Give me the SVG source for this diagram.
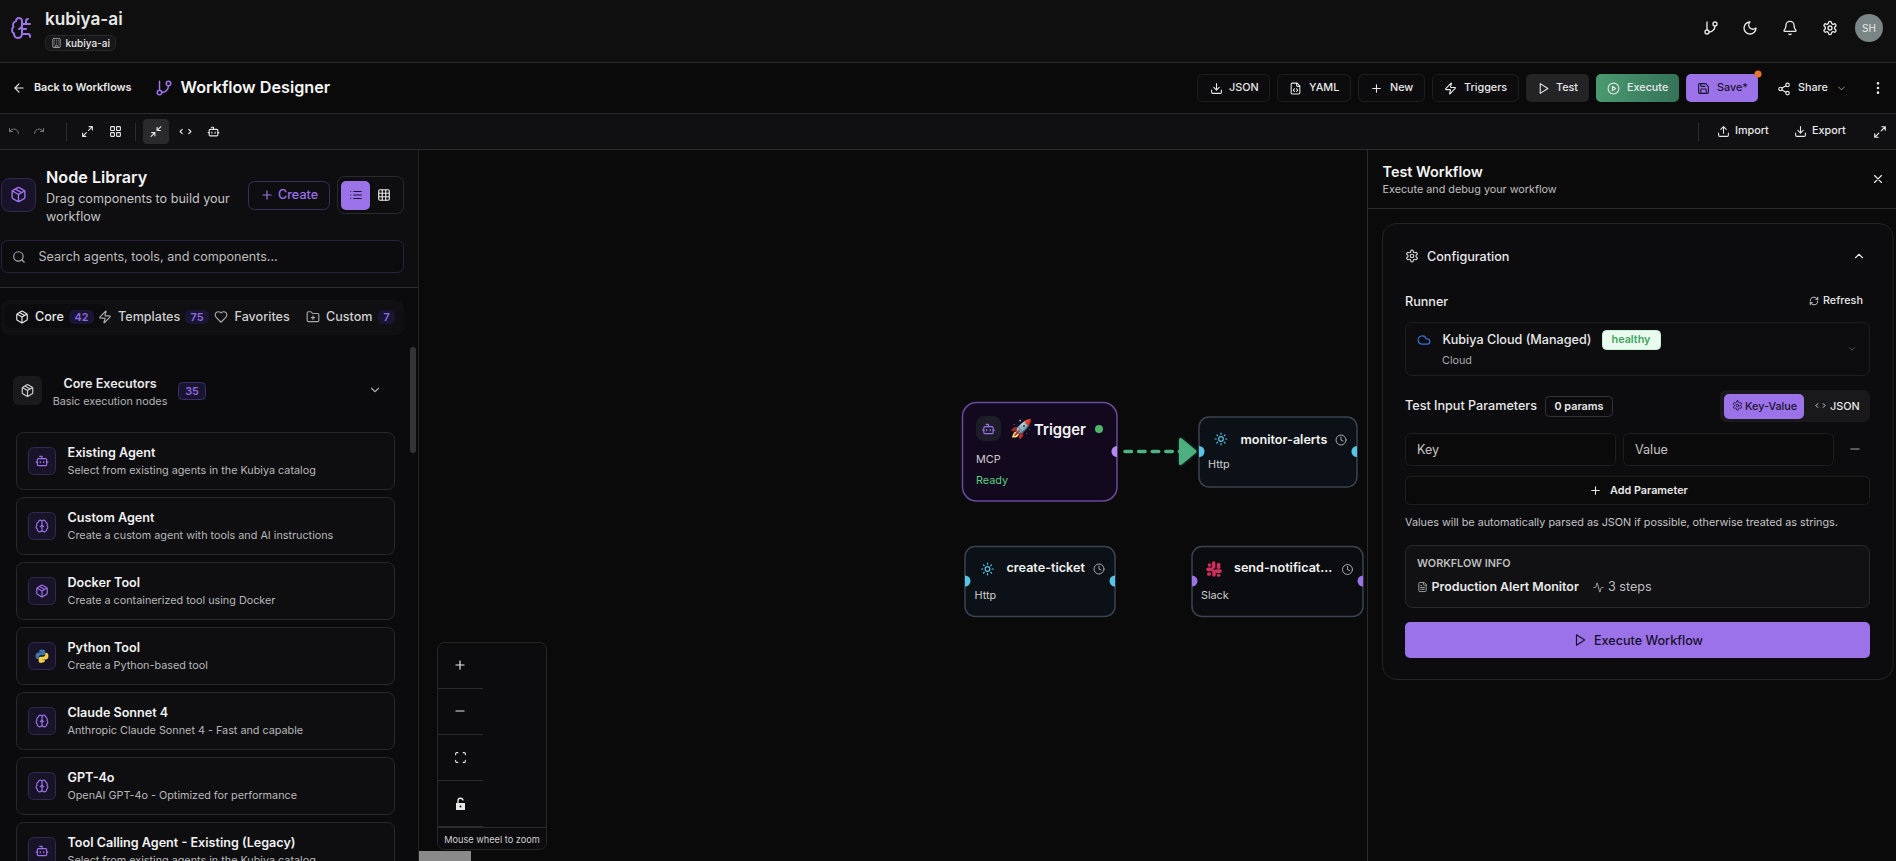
<svg xmlns="http://www.w3.org/2000/svg" width="1896" height="861" viewBox="0 0 1896 861">
<style>
text{font-family:Inter,"Noto Sans","Liberation Sans",sans-serif;fill:#e8e8e8}
.i{fill:none;stroke:currentColor;stroke-width:2;stroke-linecap:round;stroke-linejoin:round}
.w{color:#e8e8e8}.p{color:#9b72e8}.g{color:#a8a8a8}.d{color:#1a1230}.c{color:#56c5e8}
.t12{font-size:10.8px;font-weight:500}.s12{font-size:10.8px;font-weight:600}
.t14{font-size:12.6px;font-weight:500}
.btn{fill:#0c0c0e;stroke:#1f1f22}
.card{fill:#0e0e11;stroke:#29292d}
.ibox{fill:#191329;stroke:#33294f}
.ct{font-size:12.6px;font-weight:600;fill:#f2f2f2}
.cd{font-size:10.8px;fill:#b8b8b8}
.nd{fill:#0c1117;stroke:#3a4350;stroke-width:1.5}
.nt{font-size:12.6px;font-weight:600;fill:#f2f2f2}
.ns{font-size:10.8px;fill:#cfcfcf}
.badge{fill:#1a1533}
.bt{font-size:10.8px;font-weight:600;fill:#8e6be0;text-anchor:middle}
.ln{fill:#2c2c2f}
</style>
<defs>
<symbol id="arrow" viewBox="0 0 24 24"><path d="M12 19l-7-7 7-7M19 12H5"/></symbol>
<symbol id="branch" viewBox="0 0 24 24"><path d="M6 3v12M18 9a9 9 0 0 1-9 9"/><circle cx="18" cy="6" r="3"/><circle cx="6" cy="18" r="3"/></symbol>
<symbol id="undo" viewBox="0 0 24 24"><path d="M3 7v6h6M21 17a9 9 0 0 0-15-6.7L3 13"/></symbol>
<symbol id="redo" viewBox="0 0 24 24"><path d="M21 7v6h-6M3 17a9 9 0 0 1 15-6.7L21 13"/></symbol>
<symbol id="max" viewBox="0 0 24 24"><path d="M15 3h6v6M9 21H3v-6M21 3l-7 7M3 21l7-7"/></symbol>
<symbol id="min" viewBox="0 0 24 24"><path d="M4 14h6v6M20 10h-6V4M14 10l7-7M3 21l7-7"/></symbol>
<symbol id="grid" viewBox="0 0 24 24"><rect x="3" y="3" width="7" height="7" rx="1"/><rect x="14" y="3" width="7" height="7" rx="1"/><rect x="14" y="14" width="7" height="7" rx="1"/><rect x="3" y="14" width="7" height="7" rx="1"/></symbol>
<symbol id="code" viewBox="0 0 24 24"><path d="M18 16l4-4-4-4M6 8l-4 4 4 4"/></symbol>
<symbol id="bot" viewBox="0 0 24 24"><path d="M12 8V4H8M2 14h2M20 14h2M15 13v2M9 13v2"/><rect x="4" y="8" width="16" height="12" rx="2"/></symbol>
<symbol id="pkg" viewBox="0 0 24 24"><path d="M11 21.73a2 2 0 0 0 2 0l7-4A2 2 0 0 0 21 16V8a2 2 0 0 0-1-1.73l-7-4a2 2 0 0 0-2 0l-7 4A2 2 0 0 0 3 8v8a2 2 0 0 0 1 1.73zM12 22V12M3.29 7L12 12l8.71-5M7.5 4.27l9 5.15"/></symbol>
<symbol id="plus" viewBox="0 0 24 24"><path d="M5 12h14M12 5v14"/></symbol>
<symbol id="minus" viewBox="0 0 24 24"><path d="M5 12h14"/></symbol>
<symbol id="list" viewBox="0 0 24 24"><path d="M3 12h.01M3 18h.01M3 6h.01M8 12h13M8 18h13M8 6h13"/></symbol>
<symbol id="g3" viewBox="0 0 24 24"><rect x="3" y="3" width="18" height="18" rx="2"/><path d="M3 9h18M3 15h18M9 3v18M15 3v18"/></symbol>
<symbol id="search" viewBox="0 0 24 24"><circle cx="11" cy="11" r="8"/><path d="M21 21l-4.3-4.3"/></symbol>
<symbol id="zap" viewBox="0 0 24 24"><path d="M4 14a1 1 0 0 1-.78-1.63l9.9-10.2a.5.5 0 0 1 .86.46l-1.92 6.02A1 1 0 0 0 13 10h7a1 1 0 0 1 .78 1.63l-9.9 10.2a.5.5 0 0 1-.86-.46l1.92-6.02A1 1 0 0 0 11 14z"/></symbol>
<symbol id="heart" viewBox="0 0 24 24"><path d="M19 14c1.49-1.46 3-3.21 3-5.5A5.5 5.5 0 0 0 16.5 3c-1.76 0-3 .5-4.5 2-1.5-1.5-2.74-2-4.5-2A5.5 5.5 0 0 0 2 8.5c0 2.3 1.5 4.05 3 5.5l7 7Z"/></symbol>
<symbol id="folder" viewBox="0 0 24 24"><path d="M12 10v6M9 13h6M20 20a2 2 0 0 0 2-2V8a2 2 0 0 0-2-2h-7.9a2 2 0 0 1-1.69-.9L9.6 3.9A2 2 0 0 0 7.93 3H4a2 2 0 0 0-2 2v13a2 2 0 0 0 2 2Z"/></symbol>
<symbol id="cdown" viewBox="0 0 24 24"><path d="M6 9l6 6 6-6"/></symbol>
<symbol id="cup" viewBox="0 0 24 24"><path d="M18 15l-6-6-6 6"/></symbol>
<symbol id="brain" viewBox="0 0 24 24"><path d="M12 5a3 3 0 1 0-5.997.125 4 4 0 0 0-2.526 5.77 4 4 0 0 0 .556 6.588A4 4 0 1 0 12 18ZM12 5a3 3 0 1 1 5.997.125 4 4 0 0 1 2.526 5.77 4 4 0 0 1-.556 6.588A4 4 0 1 1 12 18ZM15 13a4.5 4.5 0 0 1-3-4 4.5 4.5 0 0 1-3 4M12 18V5"/></symbol>
<symbol id="logo" viewBox="0 0 24 24"><path d="M12 5a3 3 0 1 0-5.997.125 4 4 0 0 0-2.526 5.77 4 4 0 0 0 .556 6.588A4 4 0 1 0 12 18ZM12 5v13M9 13a4.5 4.5 0 0 0 3-4M12 13h4M12 18h6a2 2 0 0 1 2 2v1M12 8h8M16 8V5a2 2 0 0 1 2-2"/></symbol>
<symbol id="moon" viewBox="0 0 24 24"><path d="M12 3a6 6 0 0 0 9 9 9 9 0 1 1-9-9Z"/></symbol>
<symbol id="bell" viewBox="0 0 24 24"><path d="M10.268 21a2 2 0 0 0 3.464 0M3.262 15.326A1 1 0 0 0 4 17h16a1 1 0 0 0 .74-1.673C19.41 13.956 18 12.499 18 8A6 6 0 0 0 6 8c0 4.499-1.411 5.956-2.738 7.326"/></symbol>
<symbol id="gear" viewBox="0 0 24 24"><path d="M12.22 2h-.44a2 2 0 0 0-2 2v.18a2 2 0 0 1-1 1.73l-.43.25a2 2 0 0 1-2 0l-.15-.08a2 2 0 0 0-2.73.73l-.22.38a2 2 0 0 0 .73 2.73l.15.1a2 2 0 0 1 1 1.72v.51a2 2 0 0 1-1 1.74l-.15.09a2 2 0 0 0-.73 2.73l.22.38a2 2 0 0 0 2.73.73l.15-.08a2 2 0 0 1 2 0l.43.25a2 2 0 0 1 1 1.73V20a2 2 0 0 0 2 2h.44a2 2 0 0 0 2-2v-.18a2 2 0 0 1 1-1.73l.43-.25a2 2 0 0 1 2 0l.15.08a2 2 0 0 0 2.73-.73l.22-.39a2 2 0 0 0-.73-2.73l-.15-.08a2 2 0 0 1-1-1.74v-.5a2 2 0 0 1 1-1.74l.15-.09a2 2 0 0 0 .73-2.73l-.22-.38a2 2 0 0 0-2.73-.73l-.15.08a2 2 0 0 1-2 0l-.43-.25a2 2 0 0 1-1-1.73V4a2 2 0 0 0-2-2z"/><circle cx="12" cy="12" r="3"/></symbol>
<symbol id="down" viewBox="0 0 24 24"><path d="M21 15v4a2 2 0 0 1-2 2H5a2 2 0 0 1-2-2v-4M7 10l5 5 5-5M12 15V3"/></symbol>
<symbol id="up" viewBox="0 0 24 24"><path d="M21 15v4a2 2 0 0 1-2 2H5a2 2 0 0 1-2-2v-4M17 8l-5-5-5 5M12 3v12"/></symbol>
<symbol id="fcode" viewBox="0 0 24 24"><path d="M10 12.5L8 15l2 2.5M14 12.5l2 2.5-2 2.5M14 2v4a2 2 0 0 0 2 2h4M15 2H6a2 2 0 0 0-2 2v16a2 2 0 0 0 2 2h12a2 2 0 0 0 2-2V7z"/></symbol>
<symbol id="play" viewBox="0 0 24 24"><path d="M6 3l14 9-14 9z"/></symbol>
<symbol id="cplay" viewBox="0 0 24 24"><circle cx="12" cy="12" r="10"/><path d="M10 8l6 4-6 4z"/></symbol>
<symbol id="save" viewBox="0 0 24 24"><path d="M15.2 3a2 2 0 0 1 1.4.6l3.8 3.8a2 2 0 0 1 .6 1.4V19a2 2 0 0 1-2 2H5a2 2 0 0 1-2-2V5a2 2 0 0 1 2-2zM17 21v-7a1 1 0 0 0-1-1H8a1 1 0 0 0-1 1v7M7 3v4a1 1 0 0 0 1 1h7"/></symbol>
<symbol id="share" viewBox="0 0 24 24"><circle cx="18" cy="5" r="3"/><circle cx="6" cy="12" r="3"/><circle cx="18" cy="19" r="3"/><path d="M8.59 13.51l6.83 3.98M15.41 6.51l-6.82 3.98"/></symbol>
<symbol id="more" viewBox="0 0 24 24"><circle cx="12" cy="5" r="1"/><circle cx="12" cy="12" r="1"/><circle cx="12" cy="19" r="1"/></symbol>
<symbol id="x" viewBox="0 0 24 24"><path d="M18 6L6 18M6 6l12 12"/></symbol>
<symbol id="refresh" viewBox="0 0 24 24"><path d="M3 12a9 9 0 0 1 9-9 9.75 9.75 0 0 1 6.74 2.74L21 8M21 3v5h-5M21 12a9 9 0 0 1-9 9 9.75 9.75 0 0 1-6.74-2.74L3 16M8 16H3v5"/></symbol>
<symbol id="cloud" viewBox="0 0 24 24"><path d="M17.5 19H9a7 7 0 1 1 6.71-9h1.79a4.5 4.5 0 1 1 0 9Z"/></symbol>
<symbol id="ftext" viewBox="0 0 24 24"><path d="M15 2H6a2 2 0 0 0-2 2v16a2 2 0 0 0 2 2h12a2 2 0 0 0 2-2V7ZM14 2v4a2 2 0 0 0 2 2h4M10 9H8M16 13H8M16 17H8"/></symbol>
<symbol id="act" viewBox="0 0 24 24"><path d="M22 12h-2.48a2 2 0 0 0-1.93 1.46l-2.35 8.36a.25.25 0 0 1-.48 0L9.24 2.18a.25.25 0 0 0-.48 0l-2.35 8.36A2 2 0 0 1 4.49 12H2"/></symbol>
<symbol id="clock" viewBox="0 0 24 24"><circle cx="12" cy="12" r="10"/><path d="M12 6v6l4 2"/></symbol>
<symbol id="bld" viewBox="0 0 24 24"><rect x="4" y="2" width="16" height="20" rx="2"/><path d="M9 22v-4h6v4M8 6h.01M16 6h.01M12 6h.01M12 10h.01M12 14h.01M16 10h.01M16 14h.01M8 10h.01M8 14h.01"/></symbol>
<symbol id="full" viewBox="0 0 24 24"><path d="M3 7V5a2 2 0 0 1 2-2h2M17 3h2a2 2 0 0 1 2 2v2M21 17v2a2 2 0 0 1-2 2h-2M7 21H5a2 2 0 0 1-2-2v-2"/></symbol>
<symbol id="http" viewBox="0 0 24 24"><circle cx="12" cy="12" r="4"/><path d="M12 2v2M12 20v2M2 12h2M20 12h2M5 5l1.4 1.4M17.6 17.6L19 19M5 19l1.4-1.4M17.6 6.4L19 5"/></symbol>
<symbol id="slack" viewBox="0 0 24 24"><g fill="#d1305e" stroke="none"><rect x="9" y="1" width="5" height="10.5" rx="2.5"/><rect x="1" y="10" width="10.5" height="5" rx="2.5"/><rect x="16" y="3" width="5" height="9" rx="2.5"/><rect x="12.5" y="12.5" width="10.5" height="5" rx="2.5"/><rect x="3" y="4" width="5" height="5" rx="2.5"/><rect x="9.5" y="13" width="5" height="10" rx="2.5"/><rect x="2" y="16.5" width="6" height="5" rx="2.5"/><rect x="16" y="19" width="5" height="4" rx="2"/></g></symbol>
<symbol id="py" viewBox="0 0 24 24"><path fill="#3f75a8" d="M11.9 1C7 1 7.3 3.1 7.3 3.1V5.4h4.7v.7H5.4C3.3 6.1 1 7.4 1 12c0 4.7 2.1 5.1 3.4 5.1h1.9v-2.7c0-2 1.7-3.7 3.7-3.7h4.7c1.6 0 3-1.4 3-3V3.9C16.7 2.3 15.3 1 11.9 1z"/><path fill="#f2cf4d" d="M12.1 23c4.9 0 4.6-2.1 4.6-2.1v-2.3H12v-.7h6.6c2.1 0 4.4-1.3 4.4-5.9 0-4.7-2.1-5.1-3.4-5.1h-1.9v2.7c0 2-1.7 3.7-3.7 3.7H9.3c-1.6 0-3 1.4-3 3v4.8c0 1.6 1.4 2.9 5.8 2.9z"/></symbol>
<linearGradient id="ex" x1="0" x2="1"><stop offset="0" stop-color="#4a9a70"/><stop offset="1" stop-color="#357258"/></linearGradient>
<filter id="glow" x="-30%" y="-60%" width="160%" height="220%"><feGaussianBlur stdDeviation="1.5"/></filter>
</defs>

<rect width="1896" height="861" fill="#0a0a0a"/>
<rect width="1896" height="62" fill="#0f0f0f"/>
<rect y="62" width="1896" height="1" class="ln"/>
<rect y="63" width="1896" height="50" fill="#0a0a0a"/>
<rect y="113" width="1896" height="1" class="ln"/>
<rect y="114" width="1896" height="35" fill="#101013"/>
<rect y="149" width="1896" height="1" class="ln"/>

<use href="#logo" class="i" style="color:#9b72e8" x="10" y="16" width="24" height="24"/>
<text x="45" y="24.5" font-size="17.2" font-weight="600">kubiya-ai</text>
<rect x="45.5" y="35.5" width="70" height="15" rx="5" fill="#17171a" stroke="#29292d"/>
<use href="#bld" class="i g" x="51" y="37.5" width="11" height="11"/>
<text x="65.5" y="46.5" font-size="10" font-weight="500">kubiya-ai</text>
<use href="#branch" class="i w" x="1703" y="20" width="16" height="16"/>
<use href="#moon" class="i w" x="1742" y="20" width="16" height="16"/>
<use href="#bell" class="i w" x="1782" y="20" width="16" height="16"/>
<use href="#gear" class="i w" x="1822" y="20" width="16" height="16"/>
<circle cx="1869" cy="28" r="14" fill="#7a8585"/>
<text x="1869" y="32" font-size="10" text-anchor="middle" fill="#d6dcdc">SH</text>

<use href="#arrow" class="i w" x="12" y="81" width="14" height="14"/>
<text x="34" y="90.5" class="s12">Back to Workflows</text>
<use href="#branch" class="i p" x="155" y="79" width="18" height="18"/>
<text x="180.5" y="93" font-size="16.2" font-weight="600" style="fill:#f5f5f5">Workflow Designer</text>

<g id="top-buttons">
<rect class="btn" x="1197.5" y="74.500" width="72" height="27" rx="5"/><use href="#down" class="i w" x="1210" y="82" width="13" height="13"/><text class="t12" x="1229" y="91">JSON</text>
<rect class="btn" x="1277.5" y="74.500" width="73" height="27" rx="5"/><use href="#fcode" class="i w" x="1289" y="82" width="13" height="13"/><text class="t12" x="1309" y="91">YAML</text>
<rect class="btn" x="1358.5" y="74.500" width="66" height="27" rx="5"/><use href="#plus" class="i w" x="1370" y="82" width="13" height="13"/><text class="t12" x="1390" y="91">New</text>
<rect class="btn" x="1432.5" y="74.500" width="86" height="27" rx="5"/><use href="#zap" class="i w" x="1444" y="82" width="13" height="13"/><text class="t12" x="1464" y="91">Triggers</text>
<rect x="1526" y="74" width="63" height="28" rx="5" fill="#242427"/><use href="#play" class="i w" x="1537" y="82" width="13" height="13"/><text class="t12" x="1556" y="91">Test</text>
<rect x="1596" y="74" width="83" height="28" rx="5" fill="url(#ex)"/><use href="#cplay" class="i w" x="1607" y="82" width="13" height="13"/><text class="t12" x="1627" y="91">Execute</text>
<rect x="1686" y="74" width="72" height="28" rx="5" fill="#9b72e8"/><use href="#save" class="i d" x="1697" y="82" width="13" height="13"/><text class="t12" x="1717" y="91" style="fill:#1a1230">Save*</text>
<circle cx="1758" cy="74" r="3.5" fill="#e8752f"/>
<use href="#share" class="i w" x="1777" y="82" width="14" height="14"/><text class="t12" x="1798" y="91">Share</text>
<use href="#cdown" class="i g" x="1836" y="83" width="11" height="11"/>
<use href="#more" class="i w" x="1870" y="80" width="16" height="16"/>
</g>

<g id="toolbar">
<use href="#undo" class="i" style="color:#777" x="8" y="125" width="12" height="12"/>
<use href="#redo" class="i" style="color:#777" x="33" y="125" width="12" height="12"/>
<rect x="66" y="123" width="1" height="18" fill="#2c2c2f"/>
<use href="#max" class="i w" x="81" y="125" width="13" height="13"/>
<use href="#grid" class="i w" x="109" y="125" width="13" height="13"/>
<rect x="135" y="123" width="1" height="18" fill="#2c2c2f"/>
<rect x="143" y="119" width="26" height="25" rx="4" fill="#2a2a2d"/>
<use href="#min" class="i w" x="149.5" y="125" width="13" height="13"/>
<use href="#code" class="i w" x="179" y="125" width="13" height="13"/>
<use href="#bot" class="i w" x="207" y="125" width="13" height="13"/>
<rect x="1698" y="123" width="1" height="18" fill="#2c2c2f"/>
<use href="#up" class="i w" x="1717" y="125" width="13" height="13"/><text class="t12" x="1735" y="134">Import</text>
<use href="#down" class="i w" x="1794" y="125" width="13" height="13"/><text class="t12" x="1812" y="134">Export</text>
<use href="#max" class="i w" x="1873" y="125" width="14" height="14"/>
</g>

<g id="node-library">
<rect y="150" width="418" height="711" fill="#0b0b0d"/>
<rect y="150" width="418" height="137" fill="#0e0e11"/>
<rect x="418" y="150" width="1" height="711" fill="#232326"/>
<rect x="1.5" y="178.500" width="34" height="33" rx="8" class="ibox"/>
<use href="#pkg" class="i p" x="10" y="186" width="17" height="17"/>
<text x="46" y="183" font-size="16.2" font-weight="600" style="fill:#f5f5f5">Node Library</text>
<text x="46" y="203" font-size="12.6" style="fill:#c4c4c4">Drag components to build your</text>
<text x="46" y="221" font-size="12.6" style="fill:#c4c4c4">workflow</text>
<rect x="248.5" y="181.500" width="81" height="28" rx="6" fill="#0e0e11" stroke="#3a2f5c"/>
<use href="#plus" class="i p" x="260" y="188" width="14" height="14"/>
<text x="278" y="199" font-size="12.6" font-weight="500" style="fill:#9b72e8">Create</text>
<rect x="337.5" y="176.500" width="66" height="37" rx="7" fill="#0e0e11" stroke="#2a2a2d"/>
<rect x="341" y="181" width="29" height="29" rx="5" fill="#9b72e8"/>
<use href="#list" class="i d" x="349" y="188" width="14" height="14"/>
<use href="#g3" class="i w" x="377" y="188" width="14" height="14"/>
<rect x="1.5" y="240.500" width="402" height="32" rx="6" fill="#0c0c0e" stroke="#2a2140"/>
<use href="#search" class="i g" x="12" y="250" width="14" height="14"/>
<text x="38.5" y="261" font-size="12.6" style="fill:#bdbdbd">Search agents, tools, and components...</text>
<rect y="287" width="418" height="1" class="ln"/>

<rect x="1" y="300" width="403" height="35" rx="8" fill="#101013"/>
<rect x="5" y="304" width="100" height="24" rx="6" fill="#0c0c0e"/>
<use href="#pkg" class="i w" x="15" y="310" width="14" height="14"/>
<text x="35" y="321" class="t14">Core</text>
<rect class="badge" x="69" y="310" width="25" height="14" rx="5"/><text class="bt" x="81.5" y="320.500">42</text>
<use href="#zap" class="i g" x="98" y="310" width="14" height="14"/>
<text x="118" y="321" class="t14" style="fill:#cfcfcf">Templates</text>
<rect class="badge" x="185" y="310" width="24" height="14" rx="5"/><text class="bt" x="197" y="320.500">75</text>
<use href="#heart" class="i g" x="214" y="310" width="14" height="14"/>
<text x="234.5" y="321" class="t14" style="fill:#cfcfcf">Favorites</text>
<use href="#folder" class="i g" x="306" y="310" width="14" height="14"/>
<text x="326" y="321" class="t14" style="fill:#cfcfcf">Custom</text>
<rect class="badge" x="378" y="310" width="17" height="14" rx="5"/><text class="bt" x="386.5" y="320.500">7</text>

<rect x="410" y="347" width="6" height="106" rx="3" fill="#343437"/>

<rect x="13" y="376" width="29" height="29" rx="6" fill="#1a1a1c"/>
<use href="#pkg" class="i" style="color:#cfcfcf" x="20.5" y="383.500" width="14" height="14"/>
<text x="110" y="388" font-size="12.6" font-weight="600" text-anchor="middle">Core Executors</text>
<text x="110" y="405" font-size="10.8" text-anchor="middle" style="fill:#b4b4b4">Basic execution nodes</text>
<rect x="178.5" y="382.500" width="27" height="17" rx="4" fill="#191430" stroke="#3a2f6b"/><text class="bt" x="192" y="395">35</text>
<use href="#cdown" class="i g" x="368" y="383" width="14" height="14"/>
</g>

<g id="card-existing-agent"><rect class="card" x="16.5" y="432.500" width="378" height="57" rx="7"/><rect class="ibox" x="28.5" y="447.500" width="27" height="27" rx="5"/><use href="#bot" class="i p" x="35" y="454" width="14" height="14"/><text class="ct" x="67.5" y="457">Existing Agent</text><text class="cd" x="67.5" y="474">Select from existing agents in the Kubiya catalog</text></g>
<g id="card-custom-agent"><rect class="card" x="16.5" y="497.500" width="378" height="57" rx="7"/><rect class="ibox" x="28.5" y="512.500" width="27" height="27" rx="5"/><use href="#brain" class="i p" x="35" y="519" width="14" height="14"/><text class="ct" x="67.5" y="522">Custom Agent</text><text class="cd" x="67.5" y="539">Create a custom agent with tools and AI instructions</text></g>
<g id="card-docker-tool"><rect class="card" x="16.5" y="562.500" width="378" height="57" rx="7"/><rect class="ibox" x="28.5" y="577.500" width="27" height="27" rx="5"/><use href="#pkg" class="i p" x="35" y="584" width="14" height="14"/><text class="ct" x="67.5" y="587">Docker Tool</text><text class="cd" x="67.5" y="604">Create a containerized tool using Docker</text></g>
<g id="card-python-tool"><rect class="card" x="16.5" y="627.500" width="378" height="57" rx="7"/><rect class="ibox" x="28.5" y="642.500" width="27" height="27" rx="5"/><use href="#py" x="35" y="649" width="14" height="14"/><text class="ct" x="67.5" y="652">Python Tool</text><text class="cd" x="67.5" y="669">Create a Python-based tool</text></g>
<g id="card-claude"><rect class="card" x="16.5" y="692.500" width="378" height="57" rx="7"/><rect class="ibox" x="28.5" y="707.500" width="27" height="27" rx="5"/><use href="#brain" class="i p" x="35" y="714" width="14" height="14"/><text class="ct" x="67.5" y="717">Claude Sonnet 4</text><text class="cd" x="67.5" y="734">Anthropic Claude Sonnet 4 - Fast and capable</text></g>
<g id="card-gpt"><rect class="card" x="16.5" y="757.500" width="378" height="57" rx="7"/><rect class="ibox" x="28.5" y="772.500" width="27" height="27" rx="5"/><use href="#brain" class="i p" x="35" y="779" width="14" height="14"/><text class="ct" x="67.5" y="782">GPT-4o</text><text class="cd" x="67.5" y="799">OpenAI GPT-4o - Optimized for performance</text></g>
<g id="card-tool-calling"><rect class="card" x="16.5" y="822.500" width="378" height="57" rx="7"/><rect class="ibox" x="28.5" y="837.500" width="27" height="27" rx="5"/><use href="#bot" class="i p" x="35" y="844" width="14" height="14"/><text class="ct" x="67.5" y="847">Tool Calling Agent - Existing (Legacy)</text><text class="cd" x="67.5" y="864">Select from existing agents in the Kubiya catalog</text></g>

<g id="zoom-controls">
<rect x="437.5" y="642.500" width="109" height="207" rx="7" fill="#0c0c0e" stroke="#262629"/>
<rect x="438" y="688" width="45" height="1" class="ln"/><rect x="438" y="734" width="45" height="1" class="ln"/><rect x="438" y="780" width="45" height="1" class="ln"/><rect x="438" y="826" width="45" height="1" class="ln"/>
<rect x="438" y="827" width="108" height="1" class="ln"/>
<use href="#plus" class="i w" x="453" y="658" width="14" height="14"/>
<use href="#minus" class="i w" x="453" y="704" width="14" height="14"/>
<use href="#full" class="i w" x="454" y="751" width="13" height="13"/>
<path d="M456 803h9v7h-9z" fill="#e8e8e8"/><path d="M458 803v-2a2.5 2.5 0 0 1 5 -.5" fill="none" stroke="#e8e8e8" stroke-width="1.3"/><circle cx="460.5" cy="806.500" r="1" fill="#111"/>
<text x="492" y="842.500" font-size="9.2" text-anchor="middle" style="fill:#cfcfcf">Mouse wheel to zoom</text>
</g>
<rect x="419" y="851" width="52" height="10" fill="#8a8a8a"/>

<g id="connectors">
<path d="M1125 451.500H1180" fill="none" stroke="#4db383" stroke-width="3.5" stroke-dasharray="6.5 7.1" stroke-linecap="round"/>
<path d="M1180.5 439.500L1195 451.500L1180.5 463.500z" fill="#4caf80" stroke="#4caf80" stroke-width="3" stroke-linejoin="round" filter="url(#glow)" opacity=".5"/>
<path d="M1180.5 439.500L1195 451.500L1180.5 463.500z" fill="#4caf80" stroke="#4caf80" stroke-width="3" stroke-linejoin="round"/>
</g>

<g id="node-trigger">
<rect x="962.5" y="402.500" width="154.500" height="98.500" rx="14" fill="#12091f" stroke="#6a4a9e" stroke-width="1.5"/>
<rect x="976" y="416" width="25" height="25" rx="8" fill="#1d1d29"/>
<use href="#bot" class="i" style="color:#9b72e8" x="981.5" y="422" width="14" height="14"/>
<text x="1010" y="435" font-size="18" style="font-family:'Noto Color Emoji',Inter,sans-serif">🚀</text>
<text x="1034" y="434.500" font-size="14.8" font-weight="600" style="fill:#f5f5f5">Trigger</text>
<circle cx="1099" cy="429" r="4" fill="#4fb56a"/>
<text class="ns" x="976" y="463">MCP</text>
<text class="ns" x="976" y="484" style="fill:#5fcf7f">Ready</text>
<path d="M1117 446a5 5 0 0 0 0 11z" fill="#b78af0"/>
</g>
<g id="node-monitor-alerts">
<rect class="nd" x="1199" y="417" width="158" height="70" rx="10"/>
<use href="#http" class="i c" x="1214" y="432" width="14" height="14"/>
<text class="nt" x="1240.5" y="443.500">monitor-alerts</text>
<use href="#clock" class="i g" x="1335" y="434" width="12" height="12"/>
<text class="ns" x="1208" y="468">Http</text>
<path d="M1199 446a5.5 5.5 0 0 1 0 11z" fill="#56c5e8"/><path d="M1357 446a5.5 5.5 0 0 0 0 11z" fill="#56c5e8"/>
</g>
<g id="node-create-ticket">
<rect class="nd" x="965" y="546.500" width="150" height="70" rx="10"/>
<use href="#http" class="i c" x="980.5" y="562" width="14" height="14"/>
<text class="nt" x="1006.5" y="572">create-ticket</text>
<use href="#clock" class="i g" x="1093" y="563" width="12" height="12"/>
<text class="ns" x="974.5" y="599">Http</text>
<path d="M965 575.500a5.5 5.5 0 0 1 0 11z" fill="#56c5e8"/><path d="M1115 575.500a5.5 5.5 0 0 0 0 11z" fill="#56c5e8"/>
</g>
<g id="node-send-notification">
<rect x="1192" y="546.500" width="171" height="70" rx="10" fill="#0b0c10" stroke="#3a4350" stroke-width="1.5"/>
<use href="#slack" x="1205.5" y="560.500" width="17" height="17"/>
<text class="nt" x="1234" y="572">send-notificat...</text>
<use href="#clock" class="i g" x="1341.5" y="563.500" width="12" height="12"/>
<text class="ns" x="1201" y="598.500">Slack</text>
<path d="M1192 575.500a5.5 5.5 0 0 1 0 11z" fill="#9b72e8"/><path d="M1363 575.500a5.5 5.5 0 0 0 0 11z" fill="#9b72e8"/>
</g>

<g id="test-panel">
<rect x="1367" y="150" width="529" height="711" fill="#0a0a0a"/>
<rect x="1367" y="150" width="1" height="711" fill="#2a2a2d"/>
<text x="1382.5" y="177" font-size="14.4" font-weight="600" style="fill:#f5f5f5">Test Workflow</text>
<text x="1382.5" y="193" font-size="10.8" style="fill:#c0c0c0">Execute and debug your workflow</text>
<use href="#x" class="i w" x="1871" y="172" width="14" height="14"/>
<rect x="1368" y="208" width="528" height="1" class="ln"/>
<rect x="1382.5" y="223.500" width="510.500" height="456" rx="14" fill="#0c0c0f" stroke="#252528"/>
<use href="#gear" class="i" style="color:#cfcfcf" x="1405" y="249" width="14" height="14"/>
<text x="1427" y="261" class="t14">Configuration</text>
<use href="#cup" class="i w" x="1852" y="249" width="14" height="14"/>
<text x="1405" y="306" class="t14">Runner</text>
<use href="#refresh" class="i w" x="1809" y="296" width="10" height="10"/>
<text x="1823" y="304" font-size="10.8" font-weight="500">Refresh</text>
<rect x="1405.5" y="322.500" width="464" height="53" rx="6" fill="#0d0d10" stroke="#1e1e22"/>
<use href="#cloud" class="i" style="color:#3d6fd6" x="1417" y="333" width="14" height="14"/>
<text x="1442.5" y="344" class="t14">Kubiya Cloud (Managed)</text>
<rect x="1602.5" y="330.500" width="58" height="19" rx="4" fill="#e9fbee" stroke="#c8efd3"/>
<text x="1631" y="342.500" font-size="10.8" font-weight="600" text-anchor="middle" style="fill:#3fa45f">healthy</text>
<text x="1442" y="363.500" font-size="10.8" style="fill:#aaa">Cloud</text>
<use href="#cdown" class="i" style="color:#666" x="1847" y="344" width="10" height="10"/>
<text x="1405" y="410" class="t14">Test Input Parameters</text>
<rect x="1545.5" y="396.500" width="67" height="20" rx="4" fill="#0c0c0f" stroke="#333336"/>
<text x="1579" y="410" class="s12" text-anchor="middle">0 params</text>
<rect x="1720" y="390" width="150" height="32" rx="6" fill="#19191c"/>
<rect x="1724" y="394" width="80" height="25" rx="5" fill="#9b72e8"/>
<use href="#gear" class="i d" x="1732" y="400" width="11" height="11"/>
<text x="1745" y="410" class="t12" style="fill:#1a1230">Key-Value</text>
<use href="#code" class="i w" x="1815" y="400" width="11" height="11"/>
<text x="1830" y="410" class="t12">JSON</text>
<rect x="1405.5" y="433.500" width="210" height="32" rx="5" fill="#0a0a0a" stroke="#1e1e22"/>
<text x="1417" y="453.500" font-size="12.6" style="fill:#c4c4c4">Key</text>
<rect x="1623.5" y="433.500" width="210" height="32" rx="5" fill="#0a0a0a" stroke="#1e1e22"/>
<text x="1635" y="453.500" font-size="12.6" style="fill:#c4c4c4">Value</text>
<use href="#minus" class="i g" x="1848" y="442" width="14" height="14"/>
<rect x="1405.5" y="476.500" width="464" height="28" rx="5" fill="#0a0a0a" stroke="#1e1e22"/>
<use href="#plus" class="i w" x="1589" y="484" width="13" height="13"/>
<text x="1610" y="494" class="s12">Add Parameter</text>
<text x="1405" y="526" font-size="10.8" style="fill:#c4c4c4">Values will be automatically parsed as JSON if possible, otherwise treated as strings.</text>
<rect x="1405.5" y="545.500" width="464" height="62" rx="7" fill="#111114" stroke="#2a2a2d"/>
<text x="1417" y="567" font-size="10.8" font-weight="600" style="fill:#bdbdbd">WORKFLOW INFO</text>
<use href="#ftext" class="i g" x="1417" y="581.500" width="11" height="11"/>
<text x="1431.5" y="591" font-size="12.4" font-weight="600">Production Alert Monitor</text>
<use href="#act" class="i g" x="1593" y="582" width="11" height="11"/>
<text x="1608" y="591" font-size="12.6" style="fill:#bdbdbd">3 steps</text>
<rect x="1405" y="622" width="465" height="36" rx="5" fill="#9b72e8"/>
<use href="#play" class="i d" x="1573" y="633" width="14" height="14"/>
<text x="1594" y="644.500" class="t14" style="fill:#17102a">Execute Workflow</text>
</g>
</svg>
